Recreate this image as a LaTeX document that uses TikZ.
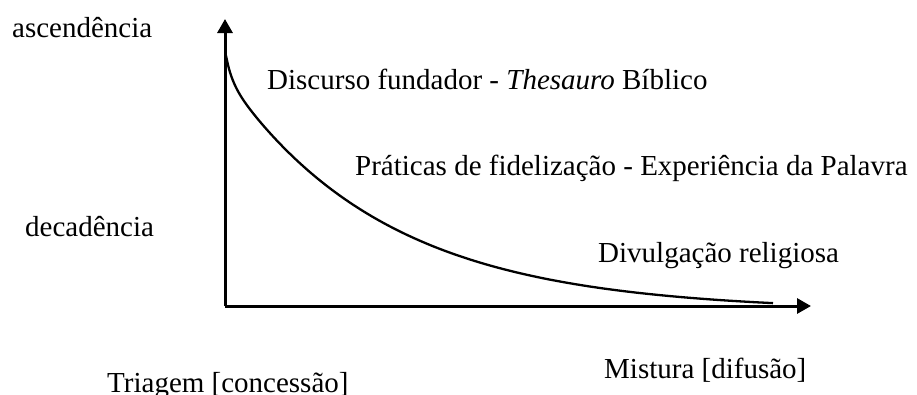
\documentclass[tikz,border=0pt]{standalone}
\usepackage{fontspec}
\setmainfont{Liberation Serif}
\usetikzlibrary{arrows.meta}

\tikzset{
  lbl/.style={anchor=base west, inner sep=0pt, font=\fontsize{29}{34}\selectfont},
  axis/.style={line width=3pt, -{Triangle[length=14pt,width=15pt]}},
  decay/.style={line width=2.3pt}
}

\begin{document}
\begin{tikzpicture}[x=1pt, y=-1pt]
\useasboundingbox (0, 0) rectangle (917, 394);

\coordinate (origin) at (225, 306);
\coordinate (ytop) at (225, 19);
\coordinate (xend) at (811, 306);

\draw[axis] (origin) -- (ytop);
\draw[axis] (origin) -- (xend);

% decay curve from the top of the vertical axis down to the horizontal one
\draw[decay] plot[domain=0.5:548, samples=150, smooth]
  ({225+\x}, {306 - (235*exp(-0.0062*\x) - 5 + 25*exp(-\x/6))});

\node[lbl] (asc) at (12, 37) {ascendência};
\node[lbl] (dec) at (25, 236) {decadência};
\node[lbl] (disc) at (267, 89) {Discurso fundador - \textit{Thesauro} Bíblico};
\node[lbl] (prat) at (355, 175) {Práticas de fidelização - Experiência da Palavra};
\node[lbl] (divul) at (598, 262) {Divulgação religiosa};
\node[lbl] (triag) at (107, 392) {Triagem [concessão]};
\node[lbl] (mist) at (604, 378) {Mistura [difusão]};

\end{tikzpicture}
\end{document}
